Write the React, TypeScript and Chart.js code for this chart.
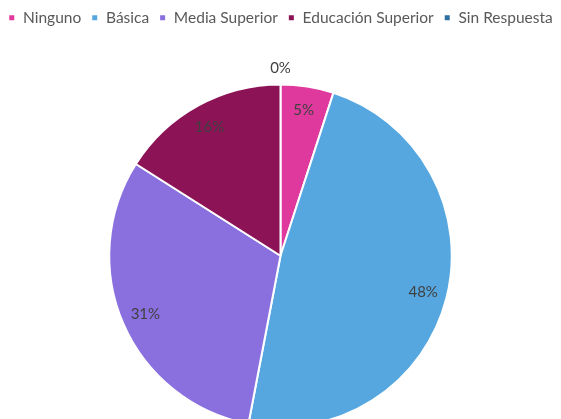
import React, { useEffect, useRef } from "react";
import { Chart, registerables } from "chart.js";

Chart.register(...registerables);

const categories = ["Ninguno", "Básica", "Media Superior", "Educación Superior", "Sin Respuesta"];
const values = [5, 48, 31, 16, 0];
const colors = ["#E0399E", "#56A7DF", "#8A70DF", "#8C1456", "#2D6FA0"];

const legendSpacer = {
  id: "legendSpacer",
  beforeInit(chart: any) {
    const legend = chart.legend;
    const origFit = legend.fit;
    legend.fit = function () {
      this.maxWidth = 900;
      origFit.bind(legend)();
      this.height += 48;
    };
    const origDraw = legend.draw;
    legend.draw = function () {
      const l = this.left;
      const r = this.right;
      this.left = l - 40;
      this.right = r + 40;
      origDraw.bind(legend)();
      this.left = l;
      this.right = r;
    };
  },
};

const labelPlugin = {
  id: "pieLabels",
  afterDatasetsDraw(chart: any) {
    const ctx = chart.ctx;
    const meta = chart.getDatasetMeta(0);
    const data = chart.data.datasets[0].data as number[];
    const total = data.reduce((a, b) => a + b, 0);
    ctx.save();
    ctx.font = "15px Lato";
    ctx.fillStyle = "#404040";
    ctx.textAlign = "center";
    ctx.textBaseline = "middle";
    meta.data.forEach((arc: any, i: number) => {
      const p = arc.getProps(["x", "y", "startAngle", "endAngle", "outerRadius"], true);
      const mid = (p.startAngle + p.endAngle) / 2;
      const pct = Math.round((data[i] / total) * 100);
      const r = pct === 0 ? p.outerRadius + 16 : p.outerRadius * 0.86;
      ctx.fillText(pct + "%", p.x + Math.cos(mid) * r, p.y + Math.sin(mid) * r);
    });
    ctx.restore();
  },
};

export default function App() {
  const ref = useRef<HTMLCanvasElement>(null);
  useEffect(() => {
    document.body.style.margin = "0";
    const chart = new Chart(ref.current!, {
      type: "pie",
      data: {
        labels: categories,
        datasets: [
          {
            data: values,
            backgroundColor: colors,
            borderColor: "#ffffff",
            borderWidth: 2,
          },
        ],
      },
      options: {
        responsive: false,
        animation: false,
        layout: { padding: { top: 0, bottom: 0 } },
        plugins: {
          tooltip: { enabled: false },
          legend: {
            position: "top",
            labels: {
              font: { family: "Lato", size: 15.5 },
              color: "#595959",
              boxWidth: 7,
              boxHeight: 7,
              padding: 10,
            },
          },
        },
      },
      plugins: [legendSpacer, labelPlugin],
    });
    return () => chart.destroy();
  }, []);
  return (
    <div style={{ width: 561, height: 419, overflow: "hidden", position: "relative" }}>
      <canvas ref={ref} width={561} height={428} />
    </div>
  );
}
